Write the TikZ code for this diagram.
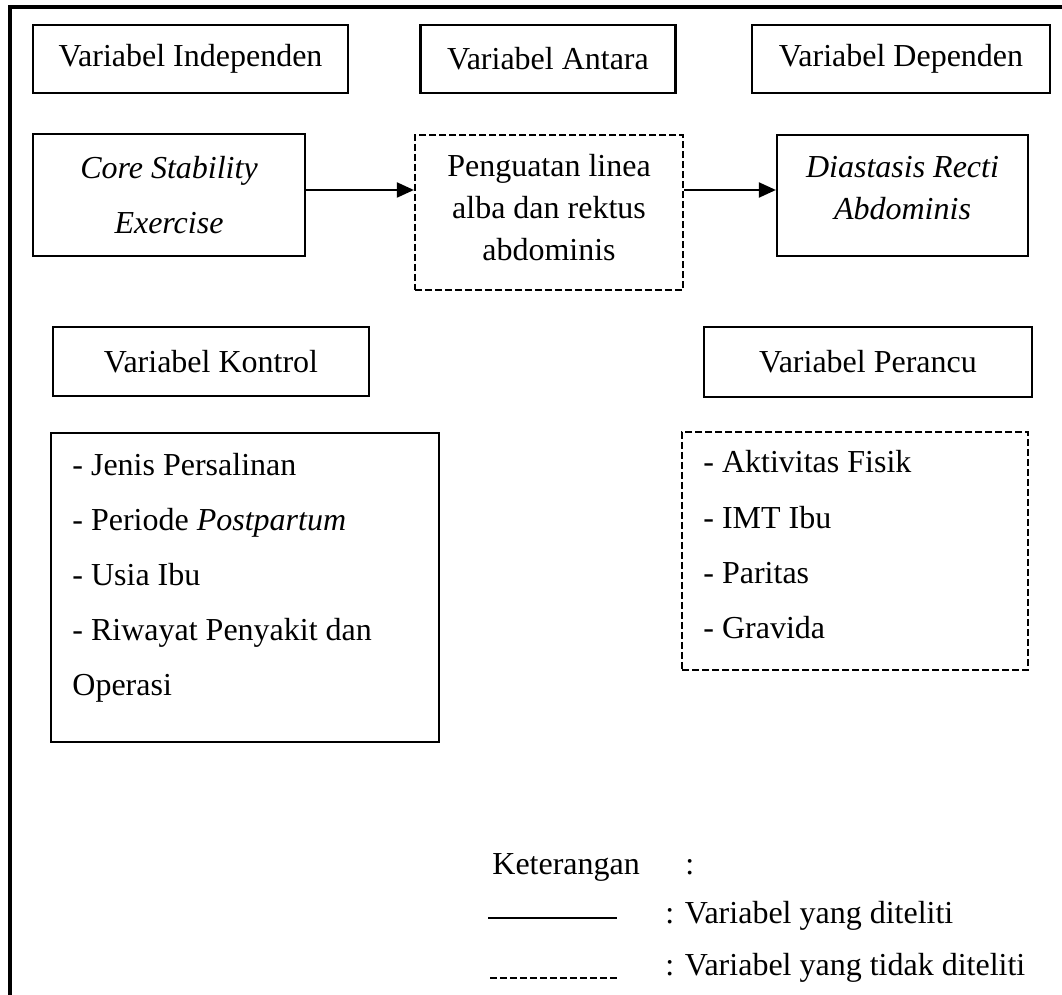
\documentclass[tikz,border=0pt]{standalone}
\usepackage{fontspec}
\setmainfont{Liberation Serif}
\usetikzlibrary{arrows.meta}

\begin{document}
\begin{tikzpicture}[x=0.5pt,y=-0.5pt,
		box/.style={draw,line width=1.1pt,inner sep=0pt,font=\fontsize{16pt}{21pt}\selectfont},
		dbox/.style={box,dash pattern=on 3.3pt off 1.7pt},
		txt/.style={inner sep=0pt,anchor=base west,font=\fontsize{16pt}{21pt}\selectfont},
		lbl/.style={inner sep=0pt,align=center,font=\fontsize{16pt}{#1}\selectfont},
		arr/.style={line width=1pt,-{Triangle[length=8.5pt,width=7.5pt]}}]
		\useasboundingbox (0,0) rectangle (1062,995);
		\draw[line width=2pt] (10.3,995) -- (10.3,6.7) -- (1062,6.7);
		\node[box,minimum width=157.5pt,minimum height=34pt] (indep) at (190.5,59) {Variabel Independen};
		\node[box,minimum width=127.5pt,minimum height=34pt] (antara) at (548,59) {Variabel Antara};
		\node[box,minimum width=149pt,minimum height=34pt] (dep) at (901,59) {Variabel Dependen};
		\node[box,minimum width=136pt,minimum height=61pt,
			label={[lbl=27.5pt,yshift=0pt]center:\itshape Core Stability\\\itshape Exercise}] (core) at (169,195) {};
		\node[dbox,minimum width=134pt,minimum height=77.5pt,
			label={[lbl=21pt,yshift=2.25pt]center:Penguatan linea\\alba dan rektus\\abdominis}] (peng) at (549,212.5) {};
		\node[box,minimum width=125.5pt,minimum height=60.5pt,
			label={[lbl=21pt,yshift=3.75pt]center:\itshape Diastasis Recti\\\itshape Abdominis}] (diast) at (902.5,195.5) {};
		\coordinate (arrowrow) at (0,190);
		\draw[arr] (core.east |- arrowrow) -- (peng.west |- arrowrow);
		\draw[arr] (peng.east |- arrowrow) -- (diast.west |- arrowrow);
		\node[box,minimum width=158pt,minimum height=34.5pt] (kontrol) at (211,361.5) {Variabel Kontrol};
		\node[box,minimum width=164pt,minimum height=35pt] (perancu) at (868,362) {Variabel Perancu};
		\node[box,minimum width=194pt,minimum height=154.5pt] (kontrolbox) at (245,587.5) {};
		\node[dbox,minimum width=173pt,minimum height=119pt] (perancubox) at (855,551) {};
		\foreach \entry [count=\i] in {Jenis Persalinan,Periode \textit{Postpartum},Usia Ibu,Riwayat Penyakit dan}
			\node[txt] (kontrol\i) at (72,{475+55*(\i-1)}) {- \entry};
		\node[txt] (kontrol5) at (72,695) {Operasi};
		\foreach \entry [count=\i] in {Aktivitas Fisik,IMT Ibu,Paritas,Gravida}
			\node[txt] (perancu\i) at (703,{473+55*(\i-1)}) {- \entry};
		\node[txt] (ket) at (492,874) {Keterangan};
		\node[txt] (ketcolon) at (685,874) {:};
		\coordinate (solidA) at (488,918);
		\coordinate (solidB) at (617,918);
		\coordinate (dashA) at (490,978);
		\coordinate (dashB) at (617,978);
		\draw[line width=1.3pt] (solidA) -- (solidB);
		\draw[line width=1.3pt,dash pattern=on 3.5pt off 1.5pt] (dashA) -- (dashB);
		\node[txt] (ketsolid) at (665,923) {: Variabel yang diteliti};
		\node[txt] (ketdash) at (665,975) {: Variabel yang tidak diteliti};
	\end{tikzpicture}
\end{document}
